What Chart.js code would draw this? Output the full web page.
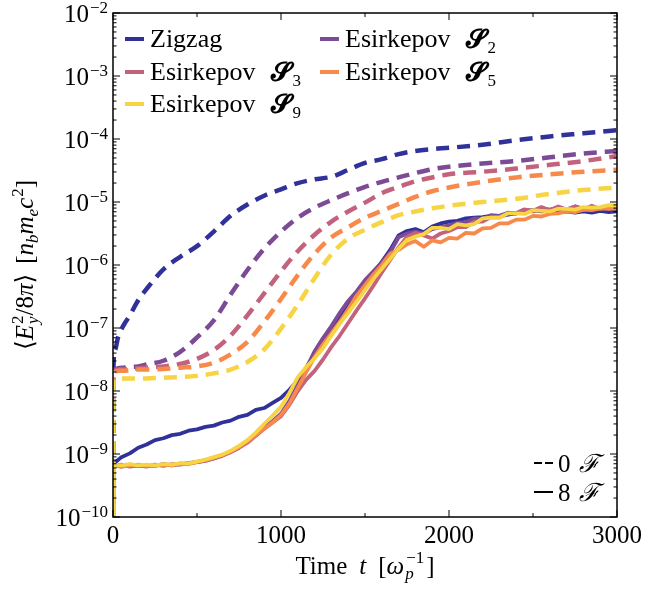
<!DOCTYPE html>
<html>
<head>
<meta charset="utf-8">
<script src="https://cdn.jsdelivr.net/npm/chart.js@4.4.1/dist/chart.umd.min.js"></script>
<style>
  html, body { margin: 0; padding: 0; background: #fff; }
  canvas { display: block; }
</style>
</head>
<body>
<canvas id="chart" width="646" height="591"></canvas>
<script>
// time samples (omega_p^-1)
const tDash = [0, 3, 12, 30, 60, 100, 150, 200, 300, 400, 500, 600, 700, 800, 900, 1000, 1100, 1200, 1300, 1400, 1500, 1600, 1700, 1800, 1900, 2000, 2200, 2400, 2600, 2800, 3000];
const tSolid = [0, 5, 50, 100, 150, 200, 250, 300, 350, 400, 450, 500, 550, 600, 650, 700, 750, 800, 850, 900, 950, 1000,
  1050, 1100, 1150, 1200, 1250, 1300, 1350, 1400, 1450, 1500, 1550, 1600, 1650, 1700, 1750, 1800, 1850, 1900, 1950, 2000,
  2050, 2100, 2150, 2200, 2250, 2300, 2350, 2400, 2450, 2500, 2550, 2600, 2650, 2700, 2750, 2800, 2850, 2900, 2950, 3000];

// log10 <Ey^2/8pi>, 0 filter passes (dashed)
const zigzagDash = [-11, -7.6, -7.35, -7.15, -6.97, -6.8, -6.56, -6.38, -6.07, -5.87, -5.7, -5.47, -5.22, -5.04, -4.9, -4.8, -4.7, -4.64, -4.6, -4.49, -4.38, -4.32, -4.24, -4.19, -4.16, -4.14, -4.09, -4.02, -3.96, -3.91, -3.86];
const s2Dash = [-11, -7.66, -7.65, -7.64, -7.63, -7.62, -7.61, -7.58, -7.52, -7.38, -7.15, -6.88, -6.47, -6.08, -5.74, -5.47, -5.25, -5.09, -4.97, -4.86, -4.76, -4.68, -4.61, -4.54, -4.48, -4.44, -4.39, -4.35, -4.29, -4.23, -4.19];
const s3Dash = [-11, -7.68, -7.67, -7.66, -7.66, -7.65, -7.64, -7.63, -7.61, -7.57, -7.49, -7.35, -7.12, -6.8, -6.45, -6.1, -5.78, -5.52, -5.31, -5.15, -5.01, -4.86, -4.76, -4.67, -4.61, -4.56, -4.52, -4.47, -4.41, -4.35, -4.27];
const s5Dash = [-11, -7.7, -7.69, -7.68, -7.68, -7.67, -7.66, -7.66, -7.65, -7.63, -7.61, -7.55, -7.42, -7.22, -6.9, -6.54, -6.16, -5.82, -5.56, -5.4, -5.25, -5.14, -5.03, -4.92, -4.83, -4.77, -4.68, -4.61, -4.56, -4.52, -4.49];
const s9Dash = [-11, -7.8, -7.8, -7.8, -7.8, -7.8, -7.8, -7.8, -7.79, -7.78, -7.76, -7.72, -7.66, -7.54, -7.34, -7.01, -6.63, -6.21, -5.83, -5.58, -5.44, -5.32, -5.21, -5.15, -5.1, -5.06, -5.0, -4.95, -4.87, -4.81, -4.77];

// log10 <Ey^2/8pi>, 8 filter passes (solid)
const zigzagSolid = [-11, -9.15, -9.05, -8.99, -8.9, -8.85, -8.78, -8.75, -8.7, -8.68, -8.63, -8.61, -8.57, -8.55, -8.5, -8.47, -8.41, -8.38, -8.3, -8.27, -8.19, -8.11,
  -7.98, -7.83, -7.63, -7.42, -7.22, -7.03, -6.82, -6.63, -6.46, -6.3, -6.12, -5.95, -5.76, -5.53, -5.46, -5.43, -5.48, -5.39, -5.34, -5.31,
  -5.3, -5.26, -5.25, -5.24, -5.22, -5.23, -5.2, -5.18, -5.15, -5.13, -5.15, -5.14, -5.16, -5.15, -5.17, -5.15, -5.17, -5.14, -5.16, -5.15];
const s2Solid = [-11, -9.18, -9.2, -9.17, -9.19, -9.18, -9.19, -9.16, -9.18, -9.16, -9.15, -9.13, -9.11, -9.07, -9.03, -8.97, -8.9, -8.81, -8.7, -8.58, -8.48, -8.36,
  -8.16, -7.9, -7.64, -7.37, -7.16, -6.97, -6.76, -6.57, -6.42, -6.24, -6.1, -5.96, -5.8, -5.56, -5.5, -5.47, -5.5, -5.43, -5.4, -5.37,
  -5.33, -5.32, -5.26, -5.27, -5.21, -5.22, -5.17, -5.18, -5.12, -5.15, -5.1, -5.12, -5.09, -5.12, -5.07, -5.11, -5.08, -5.1, -5.07, -5.09];
const s3Solid = [-11, -9.19, -9.17, -9.2, -9.18, -9.2, -9.17, -9.19, -9.16, -9.17, -9.14, -9.13, -9.1, -9.07, -9.02, -8.97, -8.9, -8.82, -8.71, -8.6, -8.5, -8.4,
  -8.22, -8.0, -7.82, -7.68, -7.5, -7.3, -7.12, -6.92, -6.72, -6.53, -6.33, -6.12, -5.92, -5.72, -5.55, -5.49, -5.53, -5.58, -5.5, -5.46,
  -5.4, -5.4, -5.31, -5.31, -5.24, -5.24, -5.18, -5.18, -5.12, -5.14, -5.08, -5.13, -5.07, -5.12, -5.07, -5.12, -5.06, -5.11, -5.06, -5.09];
const s5Solid = [-11, -9.18, -9.2, -9.18, -9.17, -9.19, -9.18, -9.17, -9.18, -9.15, -9.16, -9.12, -9.1, -9.06, -9.02, -8.96, -8.89, -8.8, -8.7, -8.6, -8.5, -8.38,
  -8.2, -7.95, -7.7, -7.46, -7.26, -7.08, -6.9, -6.7, -6.49, -6.32, -6.15, -6.0, -5.82, -5.76, -5.67, -5.62, -5.71, -5.61, -5.64, -5.57,
  -5.58, -5.49, -5.5, -5.42, -5.41, -5.34, -5.34, -5.28, -5.28, -5.22, -5.23, -5.19, -5.18, -5.15, -5.16, -5.12, -5.13, -5.1, -5.11, -5.1];
const s9Solid = [-11, -9.17, -9.18, -9.16, -9.18, -9.17, -9.18, -9.16, -9.17, -9.15, -9.15, -9.12, -9.09, -9.05, -9.01, -8.95, -8.87, -8.78, -8.66, -8.52, -8.39, -8.25,
  -8.03, -7.78, -7.62, -7.48, -7.32, -7.12, -6.93, -6.76, -6.58, -6.4, -6.22, -6.06, -5.9, -5.74, -5.6, -5.55, -5.51, -5.41, -5.41, -5.43,
  -5.35, -5.37, -5.35, -5.26, -5.25, -5.25, -5.18, -5.18, -5.19, -5.13, -5.14, -5.15, -5.11, -5.11, -5.12, -5.08, -5.09, -5.08, -5.05, -5.06];

const xMajor = [0, 1000, 2000, 3000];
const xMinor = [500, 1500, 2500];
const yExponents = [-10, -9, -8, -7, -6, -5, -4, -3, -2];

const series = [
  { name: 'Zigzag', sub: null, color: '#31319a', dash: zigzagDash, solid: zigzagSolid },
  { name: 'Esirkepov', sub: '2', color: '#7c4b95', dash: s2Dash, solid: s2Solid },
  { name: 'Esirkepov', sub: '3', color: '#c3627d', dash: s3Dash, solid: s3Solid },
  { name: 'Esirkepov', sub: '5', color: '#f7894a', dash: s5Dash, solid: s5Solid },
  { name: 'Esirkepov', sub: '9', color: '#f6d443', dash: s9Dash, solid: s9Solid },
];

const SERIF = '"Liberation Serif", "DejaVu Serif", serif';
const R = '25px ' + SERIF;
const I = 'italic 25px ' + SERIF;
const SM = '17px ' + SERIF;
const SMI = 'italic 17px ' + SERIF;

function toPoints(ts, logs) {
  return ts.map((t, i) => ({ x: t, y: Math.pow(10, logs[i]) }));
}

let datasets = [];
series.forEach((s, i) => {
  datasets.push({
    data: toPoints(tDash, s.dash),
    borderColor: s.color,
    borderWidth: 4.5,
    borderDash: [13, 8],
    borderCapStyle: 'butt',
    cubicInterpolationMode: 'monotone',
    pointRadius: 0,
    order: 20 - 2 * i
  });
  datasets.push({
    data: toPoints(tSolid, s.solid),
    borderColor: s.color,
    borderWidth: 3.8,
    borderJoinStyle: 'round',
    tension: 0,
    pointRadius: 0,
    order: 19 - 2 * i
  });
});

// text made of pieces (roman / italic / sub / superscript)
function runsWidth(ctx, runs) {
  let w = 0, held = 0;
  runs.forEach(r => {
    ctx.font = r.f || R;
    const rw = ctx.measureText(r.t).width + (r.dx || 0);
    if (r.stack) { held = rw; return; }
    w += Math.max(rw, held);
    held = 0;
  });
  return w;
}

function drawRuns(ctx, runs, x, y) {
  let held = 0;
  runs.forEach(r => {
    ctx.font = r.f || R;
    const rw = ctx.measureText(r.t).width + (r.dx || 0);
    ctx.fillText(r.t, x + (r.dx || 0), y + (r.dy || 0));
    if (r.stack) { held = rw; return; }
    x += Math.max(rw, held);
    held = 0;
  });
}

const frameTicks = {
  id: 'frameTicks',
  afterDatasetsDraw(chart) {
    const { ctx, chartArea: a, scales: { x, y } } = chart;
    ctx.save();
    ctx.strokeStyle = '#000';
    ctx.lineWidth = 1;
    ctx.beginPath();
    yExponents.forEach(k => {
      for (let m = 1; m <= 9; m++) {
        if (k === -2 && m > 1) break;
        const py = y.getPixelForValue(m * Math.pow(10, k));
        const len = m === 1 ? 7 : 3.5;
        ctx.moveTo(a.left, py); ctx.lineTo(a.left + len, py);
        ctx.moveTo(a.right, py); ctx.lineTo(a.right - len, py);
      }
    });
    xMajor.concat(xMinor).forEach(v => {
      const px = x.getPixelForValue(v);
      const len = xMajor.includes(v) ? 7 : 4;
      ctx.moveTo(px, a.bottom); ctx.lineTo(px, a.bottom - len);
      ctx.moveTo(px, a.top); ctx.lineTo(px, a.top + len);
    });
    ctx.stroke();
    ctx.lineWidth = 1.5;
    ctx.strokeRect(a.left, a.top, a.right - a.left, a.bottom - a.top);
    ctx.restore();
  },
  afterDraw(chart) {
    const { ctx, chartArea: a, scales: { y } } = chart;
    ctx.save();
    ctx.fillStyle = '#000';
    ctx.textBaseline = 'alphabetic';
    ctx.textAlign = 'left';

    // y tick labels 10^k
    yExponents.forEach(k => {
      const py = y.getPixelForValue(Math.pow(10, k));
      const runs = [{ t: '10', f: R }, { t: '\u2212' + (-k), f: SM, dy: -9, dx: 1 }];
      const w = runsWidth(ctx, runs);
      drawRuns(ctx, runs, 108 - w, py + 9);
    });

    // y title (rotated)
    const yTitle = [
      { t: '\u27E8', f: R }, { t: 'E', f: I }, { t: '2', f: SM, dy: -10, dx: 1, stack: true }, { t: 'y', f: SMI, dy: 5, dx: 1 },
      { t: '/8', f: R }, { t: '\u03C0', f: I }, { t: '\u27E9', f: R }, { t: '', dx: 10 },
      { t: '[', f: R }, { t: 'n', f: I }, { t: 'b', f: SMI, dy: 5 }, { t: 'm', f: I }, { t: 'e', f: SMI, dy: 5 },
      { t: 'c', f: I }, { t: '2', f: SM, dy: -10, dx: 1 }, { t: ']', f: R }
    ];
    ctx.save();
    ctx.translate(33, (a.top + a.bottom) / 2);
    ctx.rotate(-Math.PI / 2);
    drawRuns(ctx, yTitle, -runsWidth(ctx, yTitle) / 2, 0);
    ctx.restore();

    // x title
    const xTitle = [
      { t: 'Time', f: R }, { t: '', dx: 12 }, { t: 't', f: I }, { t: '', dx: 12 },
      { t: '[', f: R }, { t: '\u03C9', f: I }, { t: '\u22121', f: SM, dy: -11, dx: 2, stack: true }, { t: 'p', f: SMI, dy: 5, dx: 1 },
      { t: ']', f: R, dx: 2 }
    ];
    drawRuns(ctx, xTitle, (a.left + a.right) / 2 - runsWidth(ctx, xTitle) / 2, 574);

    // series legend
    const slots = [[125, 39], [320, 39], [125, 72], [320, 72], [125, 104]];
    series.forEach((s, i) => {
      const [lx, ly] = slots[i];
      ctx.strokeStyle = s.color;
      ctx.lineWidth = 4;
      ctx.beginPath(); ctx.moveTo(lx, ly); ctx.lineTo(lx + 19, ly); ctx.stroke();
      const runs = [{ t: s.name, f: '26px ' + SERIF }];
      if (s.sub) {
        runs.push({ t: '\uD835\uDCE2', f: 'bold 26px ' + SERIF, dx: 16 });
        runs.push({ t: s.sub, f: SM, dy: 6, dx: 1 });
      }
      drawRuns(ctx, runs, lx + 25, ly + 8);
    });

    // filter legend
    ctx.strokeStyle = '#000';
    ctx.lineWidth = 2;
    ctx.setLineDash([8, 3]);
    ctx.beginPath(); ctx.moveTo(534, 463); ctx.lineTo(553, 463); ctx.stroke();
    ctx.setLineDash([]);
    ctx.beginPath(); ctx.moveTo(534, 492); ctx.lineTo(553, 492); ctx.stroke();
    drawRuns(ctx, [{ t: '0', f: R }, { t: '\u2131', f: I, dx: 8 }], 558, 472);
    drawRuns(ctx, [{ t: '8', f: R }, { t: '\u2131', f: I, dx: 8 }], 558, 501);
    ctx.restore();
  }
};

new Chart(document.getElementById('chart'), {
  type: 'line',
  data: { datasets: datasets },
  options: {
    responsive: false,
    animation: false,
    devicePixelRatio: 1,
    layout: { padding: { top: 13, right: 29, left: 0, bottom: 0 } },
    plugins: { legend: { display: false }, tooltip: { enabled: false } },
    scales: {
      x: {
        type: 'linear',
        min: 0,
        max: 3000,
        grid: { display: false, drawTicks: false },
        border: { display: false },
        ticks: {
          stepSize: 1000,
          padding: 4,
          color: '#000',
          font: { family: SERIF, size: 25 },
          maxRotation: 0,
          callback: v => String(v)
        },
        afterFit: scale => { scale.height = 74; }
      },
      y: {
        type: 'logarithmic',
        min: 1e-10,
        max: 1e-2,
        grid: { display: false, drawTicks: false },
        border: { display: false },
        ticks: { display: false },
        afterFit: scale => { scale.width = 113; }
      }
    }
  },
  plugins: [frameTicks]
});
</script>
</body>
</html>
